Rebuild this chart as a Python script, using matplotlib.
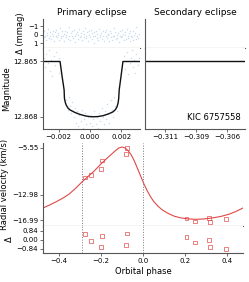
import numpy as np
import matplotlib.pyplot as plt

# light curve (primary eclipse), phase in units of 1e-3
res_phase = [-2.95, -2.91, -2.86, -2.81, -2.77, -2.72, -2.67, -2.62, -2.58, -2.53,
             -2.48, -2.44, -2.39, -2.34, -2.29, -2.25, -2.20, -2.15, -2.11, -2.06,
             -2.01, -1.97, -1.92, -1.87, -1.82, -1.78, -1.73, -1.68, -1.64, -1.59,
             -1.54, -1.50, -1.45, -1.40, -1.35, -1.31, -1.26, -1.21, -1.17, -1.12,
             -1.07, -1.03, -0.98, -0.93, -0.88, -0.84, -0.79, -0.74, -0.70, -0.65,
             -0.60, -0.56, -0.51, -0.46, -0.41, -0.37, -0.32, -0.27, -0.23, -0.18,
             -0.13, -0.09, -0.04, 0.01, 0.06, 0.10, 0.15, 0.20, 0.24, 0.29,
             0.34, 0.38, 0.43, 0.48, 0.53, 0.57, 0.62, 0.67, 0.71, 0.76,
             0.81, 0.85, 0.90, 0.95, 1.00, 1.04, 1.09, 1.14, 1.18, 1.23,
             1.28, 1.32, 1.37, 1.42, 1.47, 1.51, 1.56, 1.61, 1.65, 1.70,
             1.75, 1.79, 1.84, 1.89, 1.94, 1.98, 2.03, 2.08, 2.12, 2.17,
             2.22, 2.26, 2.31, 2.36, 2.41, 2.45, 2.50, 2.55, 2.59, 2.64,
             2.69, 2.73, 2.78, 2.83, 2.88, 2.92, 2.97, 3.02, 3.06, 3.11]
res_mmag = [0.3, -0.4, 0.1, 0.6, -0.2, 0.0, -0.7, 0.4, 0.2, -0.3,
            0.5, -0.1, -0.5, 0.2, 0.8, -0.3, 0.1, -0.6, 0.3, 0.0,
            -0.2, 0.6, -0.8, 0.1, 0.4, -0.4, 0.2, 0.7, -0.1, -0.5,
            0.3, 0.0, -0.3, 0.5, -0.9, 0.2, 0.6, -0.2, 0.1, -0.4,
            0.4, -0.6, 0.2, 0.9, -0.1, -0.3, 0.5, 0.0, -0.7, 0.3,
            -0.2, 0.1, 0.6, -0.5, 0.3, -0.1, -0.8, 0.4, 0.2, -0.3,
            0.7, -0.4, 0.0, 0.3, -0.6, 0.5, -0.2, 0.1, 1.0, -0.3,
            0.2, -0.5, 0.4, -0.1, 0.6, -0.7, 0.0, 0.3, -0.2, 0.5,
            -0.4, 0.1, 0.8, -0.3, 0.2, -0.6, 0.4, 0.0, -0.1, 0.7,
            -0.5, 0.3, -0.2, 0.6, 0.1, -0.8, 0.2, -0.3, 0.5, 0.0,
            0.4, -0.2, 0.9, -0.4, 0.1, 0.3, -0.6, 0.2, -0.1, 0.6,
            -0.3, 0.0, 0.5, -0.7, 0.2, 0.4, -0.2, 0.8, -0.5, 0.1,
            0.3, -0.4, 0.6, 0.0, -0.2, 0.5, -0.9, 0.2, 0.4, -0.1]

mag_phase_out_l = [-2.92, -2.85, -2.78, -2.70, -2.63, -2.55, -2.47, -2.40, -2.31, -2.22, -2.15, -2.07, -1.99, -1.95]
mag_out_l = [12.8648, 12.8653, 12.8646, 12.8651, 12.8644, 12.8655, 12.8649, 12.8658, 12.8647, 12.8652, 12.8645, 12.8650, 12.8656, 12.8648]
mag_phase_in = [-1.50, -1.42, -1.35, -1.28, -1.20, -1.12, -1.05, -0.97, -0.90, -0.82, -0.75, -0.68, -0.60, -0.52, -0.45,
                -0.38, -0.30, -0.22, -0.15, -0.08, 0.00, 0.07, 0.14, 0.22, 0.29, 0.37, 0.44, 0.51, 0.59, 0.66,
                0.74, 0.81, 0.88, 0.96, 1.03, 1.11, 1.18, 1.25, 1.33, 1.40, 1.48, 1.55, 1.62, 1.70]
mag_in = [12.8671, 12.8676, 12.8669, 12.8674, 12.8678, 12.8672, 12.8680, 12.8675, 12.8683, 12.8677, 12.8685, 12.8679,
          12.8682, 12.8676, 12.8686, 12.8681, 12.8678, 12.8684, 12.8680, 12.8687, 12.8683, 12.8679, 12.8685, 12.8681,
          12.8677, 12.8684, 12.8680, 12.8686, 12.8678, 12.8682, 12.8675, 12.8680, 12.8684, 12.8677, 12.8681, 12.8673,
          12.8678, 12.8683, 12.8671, 12.8676, 12.8680, 12.8669, 12.8674, 12.8677]
mag_phase_out_r = [2.18, 2.25, 2.31, 2.38, 2.46, 2.53, 2.60, 2.68, 2.75, 2.83, 2.90, 2.97, 3.05, 3.12]
mag_out_r = [12.8647, 12.8654, 12.8650, 12.8645, 12.8657, 12.8651, 12.8648, 12.8644, 12.8653, 12.8649, 12.8656, 12.8646, 12.8652, 12.8648]

# eclipse model
model_phase = [-2.98, -1.91, -1.78, -1.65, -1.63, -1.58, -1.52, -1.40, -1.27, -0.95, -0.64, -0.25, 0.11,
               0.48, 0.84, 1.20, 1.48, 1.63, 1.73, 1.80, 1.84, 1.87, 1.99, 2.11, 3.18]
model_mag = [12.8650, 12.8650, 12.86580, 12.86654, 12.86699, 12.86720, 12.86735, 12.86752, 12.86762,
             12.86776, 12.86786, 12.86795, 12.86799, 12.86798, 12.86793, 12.86783, 12.86772, 12.86760,
             12.86745, 12.86725, 12.86699, 12.86654, 12.86578, 12.8650, 12.8650]

# radial velocities
rv_phase = [-0.274, -0.247, -0.199, -0.195, -0.082, -0.076, 0.207, 0.248, 0.312, 0.317, 0.394]
rv = [-10.24, -9.86, -8.87, -7.56, -6.50, -5.60, -16.77, -17.24, -16.72, -17.29, -16.88]
rv_res = [0.53, -0.07, -0.65, 0.37, -0.47, 0.59, 0.25, -0.25, 0.00, -0.63, -0.84]

rv_model_phase = [-0.475, -0.44, -0.41, -0.38, -0.35, -0.32, -0.29, -0.26, -0.23, -0.20, -0.17, -0.15,
                  -0.13, -0.115, -0.10, -0.085, -0.07, -0.055, -0.04, -0.025, -0.01, 0.005, 0.02, 0.035,
                  0.05, 0.07, 0.09, 0.12, 0.15, 0.18, 0.21, 0.25, 0.29, 0.33, 0.37, 0.41, 0.44, 0.475]
rv_model = [-15.08, -14.55, -14.05, -13.50, -12.85, -11.95, -10.95, -10.05, -9.15, -8.10, -7.15, -6.55,
            -5.95, -5.55, -5.40, -5.55, -6.00, -6.70, -7.70, -8.90, -10.10, -11.30, -12.35, -13.25,
            -14.00, -14.75, -15.35, -15.95, -16.40, -16.65, -16.80, -16.88, -16.82, -16.66, -16.42, -16.05,
            -15.65, -15.08]

eclipse_phases = [-0.29, 0.0]

W, H = 249, 282
fig = plt.figure(figsize=(W / 100, H / 100), dpi=100)
plt.rcParams['font.size'] = 5

def box(x0, y0, x1, y1):
    return [x0 / W, 1 - y1 / H, (x1 - x0) / W, (y1 - y0) / H]

spine_c = '#555555'
dot_c = '#a8c4ea'
red = '#e04848'

def style(ax, bottom=True):
    for s in ['top', 'right']:
        ax.spines[s].set_visible(False)
    for s in ['left', 'bottom']:
        ax.spines[s].set_color(spine_c)
        ax.spines[s].set_linewidth(0.8)
    ax.tick_params(length=2, width=0.6, pad=1.5, labelsize=5, color=spine_c)
    if not bottom:
        ax.tick_params(axis='x', bottom=False, labelbottom=False)

lc_phase_all = np.concatenate([mag_phase_out_l, mag_phase_in, mag_phase_out_r]) * 1e-3
lc_mag_all = np.concatenate([mag_out_l, mag_in, mag_out_r])

# primary residuals
ax1 = fig.add_axes(box(43, 19, 140, 48))
ax1.scatter(np.array(res_phase) * 1e-3, res_mmag, s=1.1, color=dot_c, alpha=0.6, lw=0)
ax1.set_xlim(-0.003, 0.0032)
ax1.set_ylim(1.6, -1.9)
ax1.set_yticks([-1, 0, 1])
ax1.set_ylabel('Δ (mmag)', fontsize=6, labelpad=2)
ax1.set_title('Primary eclipse', fontsize=6.5, pad=3)
style(ax1, bottom=False)

# primary magnitude
ax2 = fig.add_axes(box(43, 48, 140, 129))
ax2.scatter(lc_phase_all, lc_mag_all, s=1.1, color=dot_c, alpha=0.6, lw=0)
ax2.plot(np.array(model_phase) * 1e-3, model_mag, color='#111111', lw=1.0)
ax2.set_xlim(-0.003, 0.0032)
ax2.set_ylim(12.86865, 12.86427)
ax2.set_yticks([12.865, 12.868])
ax2.set_yticklabels(['12.865', '12.868'])
ax2.set_xticks([-0.002, 0.0, 0.002])
ax2.set_xticklabels(['\u22120.002', '0.000', '0.002'])
ax2.set_ylabel('Magnitude', fontsize=6, labelpad=2)
style(ax2)

# secondary residuals
ax3 = fig.add_axes(box(145, 19, 245, 48))
ax3.set_xlim(-0.31261, -0.30455)
ax3.set_ylim(1.6, -1.9)
ax3.set_yticks([])
ax3.set_title('Secondary eclipse', fontsize=6.5, pad=3)
style(ax3, bottom=False)

# secondary magnitude
ax4 = fig.add_axes(box(145, 48, 245, 129))
ax4.plot([-0.31261, -0.30455], [12.865, 12.865], color='#111111', lw=1.0)
ax4.set_xlim(-0.31261, -0.30455)
ax4.set_ylim(12.86865, 12.86427)
ax4.set_yticks([])
ax4.set_xticks([-0.3110, -0.3085, -0.3060])
ax4.set_xticklabels(['\u22120.311', '\u22120.309', '\u22120.306'])
ax4.text(0.96, 0.09, 'KIC 6757558', transform=ax4.transAxes, ha='right', va='bottom', fontsize=6)
style(ax4)

# radial velocity
ax5 = fig.add_axes(box(43, 143, 243, 226))
ax5.plot(rv_model_phase, rv_model, color=red, lw=0.8)
ax5.scatter(rv_phase, rv, marker='s', s=7, facecolor='none', edgecolor=red, lw=0.6, alpha=0.8)
for p in eclipse_phases:
    ax5.axvline(p, color='#777777', ls=':', lw=0.7)
ax5.set_xlim(-0.475, 0.475)
ax5.set_ylim(-17.94, -4.76)
ax5.set_yticks([-5.55, -12.98, -16.99])
ax5.set_yticklabels(['\u22125.55', '\u221212.98', '\u221216.99'])
ax5.set_ylabel('Radial velocity (km/s)', fontsize=6, labelpad=2)
style(ax5, bottom=False)

ax6 = fig.add_axes(box(43, 226, 243, 253))
ax6.scatter(rv_phase, rv_res, marker='s', s=7, facecolor='none', edgecolor=red, lw=0.6, alpha=0.8)
for p in eclipse_phases:
    ax6.axvline(p, color='#777777', ls=':', lw=0.7)
ax6.set_xlim(-0.475, 0.475)
ax6.set_ylim(-1.22, 1.3)
ax6.set_yticks([0.84, 0.0, -0.84])
ax6.set_yticklabels(['0.84', '0.00', '\u22120.84'])
ax6.set_xticks([-0.4, -0.2, 0.0, 0.2, 0.4])
ax6.set_xlabel('Orbital phase', fontsize=6, labelpad=2)
ax6.set_ylabel('Δ', fontsize=6, labelpad=2)
style(ax6)

fig.savefig('out.png', dpi=100)
